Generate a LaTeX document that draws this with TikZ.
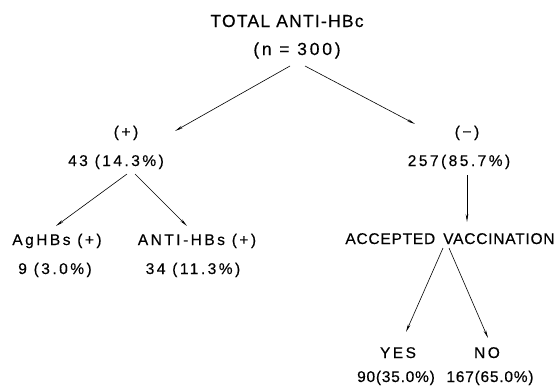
\documentclass[tikz,border=0pt]{standalone}
\usepackage{fontspec}
\setmainfont{Liberation Sans}
\newfontfamily\lerfont[LetterSpace=16,FakeBold=0.4]{Liberation Sans}
\newfontfamily\lernarrow[LetterSpace=5,FakeBold=0.4]{Liberation Sans}
\newfontfamily\lertitle[LetterSpace=7,FakeBold=0.4]{Liberation Sans}
\usetikzlibrary{arrows.meta}
\tikzset{
  lbl/.style={anchor=base, inner sep=0pt, font=\lerfont\fontsize{15.5}{18}\selectfont},
  lbln/.style={anchor=base, inner sep=0pt, font=\lernarrow\fontsize{15.5}{18}\selectfont},
  ttl/.style={anchor=base, inner sep=0pt, font=\lertitle\fontsize{17.5}{20}\selectfont},
  arr/.style={line width=0.6pt, -{Stealth[length=8pt,width=2.6pt]}}
}
\begin{document}
\begin{tikzpicture}[x=1pt,y=-1pt]
\useasboundingbox (0,0) rectangle (559,386);
% texts
\node[ttl] (title) at (287,27) {TOTAL ANTI-HBc};
\node[ttl,font=\lerfont\fontsize{17.5}{20}\selectfont] (n300) at (297,55) {(n = 300)};
\node[lbl] (plus) at (126,137) {(\,+\,)};
\node[lbl] (pos) at (116,166) {43 (14.3\%)};
\node[lbl] (minus) at (467,137) {(\,−\,)};
\node[lbl] (neg) at (459,166) {257(85.7\%)};
\node[lbl] (ag) at (57,245) {AgHBs (+)};
\node[lbl] (agn) at (55,274) {9 (3.0\%)};
\node[lbl] (anti) at (197,245) {ANTI-HBs (+)};
\node[lbl] (antin) at (193,274) {34 (11.3\%)};
\node[lbln] (acc) at (450,244) {ACCEPTED\hspace{8pt}VACCINATION};
\node[lbl] (yes) at (398,358) {YES};
\node[lbl] (no) at (487,358) {NO};
\node[lbln] (yesn) at (396,382) {90(35.0\%)};
\node[lbln] (non) at (490,382) {167(65.0\%)};
% connector ends
\coordinate (a1s) at (290,66);  \coordinate (a1e) at (175,131);
\coordinate (a2s) at (305,66);  \coordinate (a2e) at (415,124);
\coordinate (b1s) at (127,174); \coordinate (b1e) at (56,226);
\coordinate (b2s) at (135,174); \coordinate (b2e) at (187,226);
\coordinate (c1s) at (467,175); \coordinate (c1e) at (467,222);
\coordinate (d1s) at (443,248); \coordinate (d1e) at (406,332);
\coordinate (d2s) at (449,248); \coordinate (d2e) at (488,338);
\draw[arr] (a1s) -- (a1e);
\draw[arr] (a2s) -- (a2e);
\draw[arr] (b1s) -- (b1e);
\draw[arr] (b2s) -- (b2e);
\draw[arr] (c1s) -- (c1e);
\draw[arr] (d1s) -- (d1e);
\draw[arr] (d2s) -- (d2e);
\end{tikzpicture}
\end{document}
